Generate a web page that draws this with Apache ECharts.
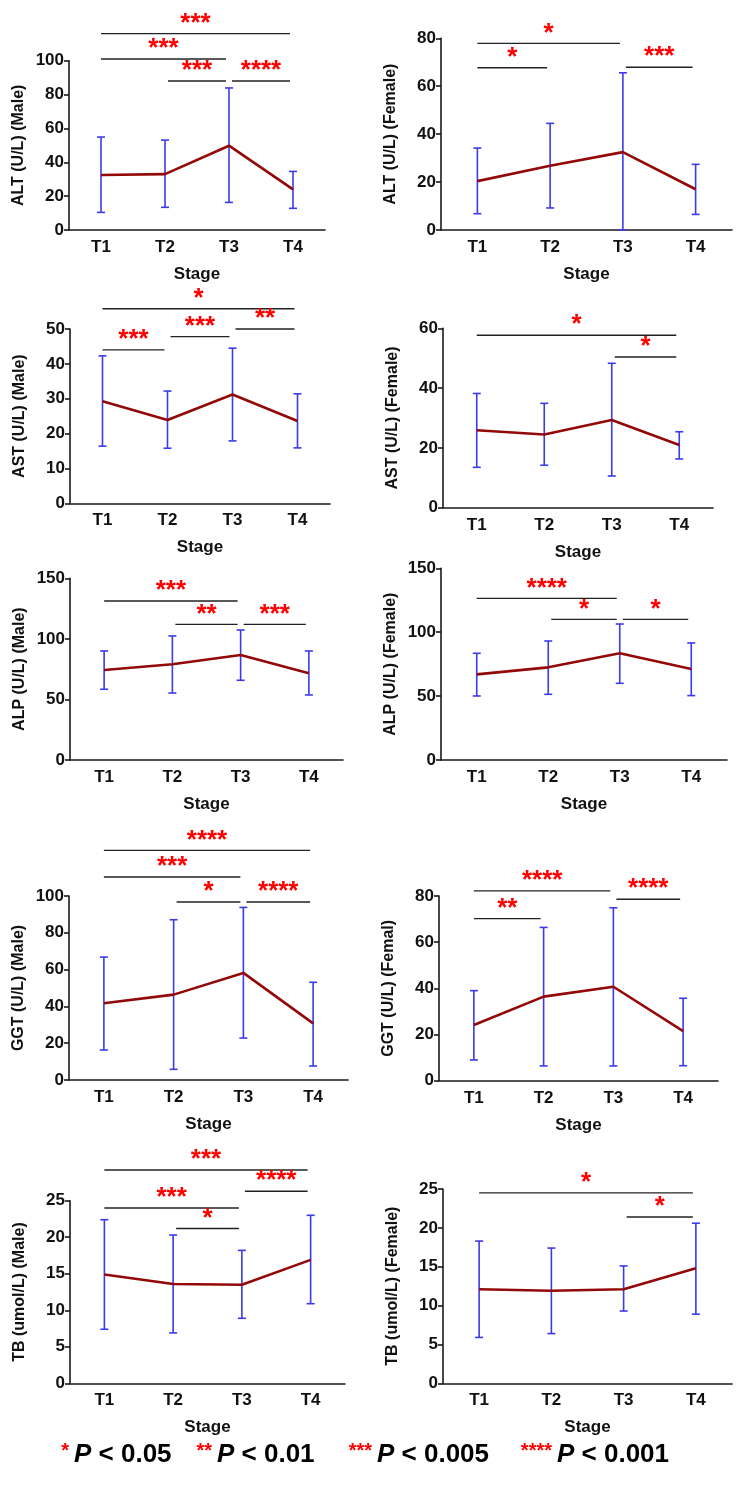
<!DOCTYPE html>
<html>
<head>
<meta charset="utf-8">
<script src="https://cdn.jsdelivr.net/npm/echarts@6/dist/echarts.min.js"></script>
<style>
html,body{margin:0;padding:0;background:#fff;}
#chart{width:740px;height:1487px;}
</style>
</head>
<body>
<div id="chart"></div>
<script>
// ---------- data ----------
const categories = ['T1', 'T2', 'T3', 'T4'];

const altMaleMean = [32.5, 33, 49.8, 24];
const altMaleLow  = [10.4, 13.4, 16.3, 12.8];
const altMaleHigh = [54.9, 53.1, 83.9, 34.6];
const altMaleSig  = [[0, 3, 116, '***'], [0, 2, 101, '***'], [1, 2, 88, '***'], [2, 3, 88, '****']];

const altFemaleMean = [20.4, 26.8, 32.5, 17];
const altFemaleLow  = [6.8, 9.2, 0, 6.5];
const altFemaleHigh = [34.2, 44.5, 65.6, 27.4];
const altFemaleSig  = [[0, 2, 77.9, '*'], [0, 1, 67.7, '*'], [2, 3, 67.9, '***']];

const astMaleMean = [29.3, 23.9, 31.2, 23.6];
const astMaleLow  = [16.4, 15.8, 17.9, 15.9];
const astMaleHigh = [42.3, 32.2, 44.5, 31.4];
const astMaleSig  = [[0, 3, 55.8, '*'], [0, 1, 44, '***'], [1, 2, 47.8, '***'], [2, 3, 50, '**']];

const astFemaleMean = [25.9, 24.5, 29.3, 21];
const astFemaleLow  = [13.5, 14.2, 10.6, 16.3];
const astFemaleHigh = [38.2, 34.9, 48.3, 25.4];
const astFemaleSig  = [[0, 3, 57.7, '*'], [2, 3, 50.4, '*']];

const alpMaleMean = [74.3, 79, 86.7, 71.6];
const alpMaleLow  = [58.4, 55.3, 65.8, 53.7];
const alpMaleHigh = [90, 102.4, 107.3, 90];
const alpMaleSig  = [[0, 2, 131.3, '***'], [1, 2, 112, '**'], [2, 3, 112, '***']];

const alpFemaleMean = [67, 72.5, 83.5, 71.2];
const alpFemaleLow  = [50.1, 51.4, 60, 50.4];
const alpFemaleHigh = [83.5, 93.1, 106.4, 91.6];
const alpFemaleSig  = [[0, 2, 126.5, '****'], [1, 2, 110, '*'], [2, 3, 110, '*']];

const ggtMaleMean = [41.7, 46.4, 58.2, 30.8];
const ggtMaleLow  = [16.3, 5.8, 22.8, 7.6];
const ggtMaleHigh = [66.8, 87.1, 93.8, 53.1];
const ggtMaleSig  = [[0, 3, 124.8, '****'], [0, 2, 110.3, '***'], [1, 2, 96.7, '*'], [2, 3, 96.7, '****']];

const ggtFemaleMean = [24.1, 36.4, 40.7, 21.5];
const ggtFemaleLow  = [9, 6.4, 6.4, 6.5];
const ggtFemaleHigh = [39, 66.4, 74.9, 35.7];
const ggtFemaleSig  = [[0, 2, 82.2, '****'], [0, 1, 70.2, '**'], [2, 3, 78.6, '****']];

const tbMaleMean = [14.9, 13.6, 13.5, 16.9];
const tbMaleLow  = [7.4, 6.9, 8.9, 10.9];
const tbMaleHigh = [22.4, 20.3, 18.2, 23];
const tbMaleSig  = [[0, 3, 29.2, '***'], [0, 2, 24, '***'], [1, 2, 21.2, '*'], [2, 3, 26.3, '****']];

const tbFemaleMean = [12.1, 11.9, 12.1, 14.8];
const tbFemaleLow  = [5.9, 6.4, 9.3, 8.9];
const tbFemaleHigh = [18.3, 17.4, 15.1, 20.6];
const tbFemaleSig  = [[0, 3, 24.5, '*'], [2, 3, 21.4, '*']];

const yNames = ['ALT (U/L) (Male)', 'ALT (U/L) (Female)', 'AST (U/L) (Male)', 'AST (U/L) (Female)',
  'ALP (U/L) (Male)', 'ALP (U/L) (Female)', 'GGT (U/L) (Male)', 'GGT (U/L) (Femal)',
  'TB (umol/L) (Male)', 'TB (umol/L) (Female)'];
const yMax = [100, 80, 50, 60, 150, 150, 100, 80, 25, 25];
const yInterval = [20, 20, 10, 20, 50, 50, 20, 20, 5, 5];
const xName = 'Stage';
const legendStars = ['*', '**', '***', '****'];
const legendTexts = [' < 0.05', ' < 0.01', ' < 0.005', ' < 0.001'];

// ---------- layout ----------
const layout = [
  {left: 69, top: 60.7, width: 256, height: 169.3},
  {left: 441, top: 38.3, width: 291, height: 191.7},
  {left: 70, top: 329, width: 260, height: 174.3},
  {left: 443, top: 328.3, width: 270, height: 179.4},
  {left: 70, top: 578.3, width: 273, height: 181.7},
  {left: 441, top: 568.3, width: 286, height: 191.7},
  {left: 69, top: 896, width: 279, height: 184},
  {left: 439, top: 896, width: 279, height: 184.7},
  {left: 70, top: 1200.7, width: 275, height: 182.6},
  {left: 443, top: 1189, width: 289, height: 194.3}
];

const panels = [
  [altMaleMean, altMaleLow, altMaleHigh, altMaleSig],
  [altFemaleMean, altFemaleLow, altFemaleHigh, altFemaleSig],
  [astMaleMean, astMaleLow, astMaleHigh, astMaleSig],
  [astFemaleMean, astFemaleLow, astFemaleHigh, astFemaleSig],
  [alpMaleMean, alpMaleLow, alpMaleHigh, alpMaleSig],
  [alpFemaleMean, alpFemaleLow, alpFemaleHigh, alpFemaleSig],
  [ggtMaleMean, ggtMaleLow, ggtMaleHigh, ggtMaleSig],
  [ggtFemaleMean, ggtFemaleLow, ggtFemaleHigh, ggtFemaleSig],
  [tbMaleMean, tbMaleLow, tbMaleHigh, tbMaleSig],
  [tbFemaleMean, tbFemaleLow, tbFemaleHigh, tbFemaleSig]
];

const FONT = '"Liberation Sans", Arial, sans-serif';
const AXIS_COLOR = '#1a1a1a';
const LINE_COLOR = '#930808';
const ERR_COLOR = '#3b3bea';
const STAR_COLOR = '#ff0000';

const grid = [], xAxis = [], yAxis = [], series = [];

panels.forEach((p, k) => {
  const [mean, low, high, sig] = p;
  grid.push(Object.assign({containLabel: false}, layout[k]));
  xAxis.push({
    type: 'category', gridIndex: k, data: categories, boundaryGap: true,
    name: xName, nameLocation: 'middle', nameGap: 36,
    nameTextStyle: {fontFamily: FONT, fontWeight: 'bold', fontSize: 17, color: '#111'},
    axisLine: {lineStyle: {color: AXIS_COLOR, width: 1.6}},
    axisTick: {alignWithLabel: true, length: 5, lineStyle: {color: AXIS_COLOR, width: 1.6}},
    axisLabel: {fontFamily: FONT, fontWeight: 'bold', fontSize: 17, color: '#111', margin: 9},
    splitLine: {show: false}
  });
  yAxis.push({
    type: 'value', gridIndex: k, min: 0, max: yMax[k], interval: yInterval[k],
    name: yNames[k], nameLocation: 'middle', nameGap: 42, nameRotate: 90,
    nameTextStyle: {fontFamily: FONT, fontWeight: 'bold', fontSize: 16, color: '#111'},
    axisLine: {show: true, lineStyle: {color: AXIS_COLOR, width: 1.6}},
    axisTick: {show: true, length: 5, lineStyle: {color: AXIS_COLOR, width: 1.6}},
    axisLabel: {fontFamily: FONT, fontWeight: 'bold', fontSize: 17, color: '#111', margin: 5},
    splitLine: {show: false}
  });
  // error bars
  series.push({
    type: 'custom', xAxisIndex: k, yAxisIndex: k, z: 2, silent: true,
    data: categories.map((c, i) => [i, low[i], high[i]]),
    renderItem: function (params, api) {
      const a = api.coord([api.value(0), api.value(1)]);
      const b = api.coord([api.value(0), api.value(2)]);
      const hw = 4;
      const st = {stroke: ERR_COLOR, lineWidth: 1.6};
      return {type: 'group', children: [
        {type: 'line', shape: {x1: a[0], y1: a[1], x2: b[0], y2: b[1]}, style: st},
        {type: 'line', shape: {x1: a[0] - hw, y1: a[1], x2: a[0] + hw, y2: a[1]}, style: st},
        {type: 'line', shape: {x1: b[0] - hw, y1: b[1], x2: b[0] + hw, y2: b[1]}, style: st}
      ]};
    }
  });
  // mean line
  series.push({
    type: 'line', xAxisIndex: k, yAxisIndex: k, z: 3, silent: true,
    data: mean, symbol: 'none',
    lineStyle: {color: LINE_COLOR, width: 2.6}
  });
  // significance brackets
  series.push({
    type: 'custom', xAxisIndex: k, yAxisIndex: k, z: 4, silent: true, clip: false,
    data: sig.map(s => [s[0], s[1], s[2]]),
    renderItem: function (params, api) {
      const s = sig[params.dataIndex];
      const a = api.coord([s[0], s[2]]);
      const b = api.coord([s[1], s[2]]);
      const inset = 3;
      const x1 = a[0] + (s[0] === 0 ? 0 : inset);
      const x2 = b[0] - inset;
      return {type: 'group', children: [
        {type: 'line', shape: {x1: x1, y1: a[1], x2: x2, y2: b[1]},
          style: {stroke: '#222', lineWidth: 1.4}},
        {type: 'text', x: (x1 + x2) / 2, y: a[1] + 3,
          style: {text: s[3], fill: STAR_COLOR, font: 'bold 26px ' + FONT,
            align: 'center', verticalAlign: 'bottom'}}
      ]};
    }
  });
});

const legendPX = [74, 217, 377, 557];
const graphic = [];
legendStars.forEach((st, i) => {
  graphic.push({
    type: 'text', x: legendPX[i] - 5, y: 1441,
    style: {text: st, fill: STAR_COLOR, font: 'bold 20px ' + FONT, align: 'right', verticalAlign: 'top'}
  });
  graphic.push({
    type: 'text', x: legendPX[i], y: 1455,
    style: {
      text: '{p|P}{t|' + legendTexts[i] + '}', verticalAlign: 'middle', align: 'left',
      rich: {
        p: {fill: '#000', fontSize: 26, fontWeight: 'bold', fontStyle: 'italic', fontFamily: FONT},
        t: {fill: '#000', fontSize: 26, fontWeight: 'bold', fontFamily: FONT}
      }
    }
  });
});

const chart = echarts.init(document.getElementById('chart'), null, {renderer: 'canvas'});
chart.setOption({
  animation: false,
  backgroundColor: '#fff',
  grid: grid, xAxis: xAxis, yAxis: yAxis, series: series, graphic: graphic
});
</script>
</body>
</html>
